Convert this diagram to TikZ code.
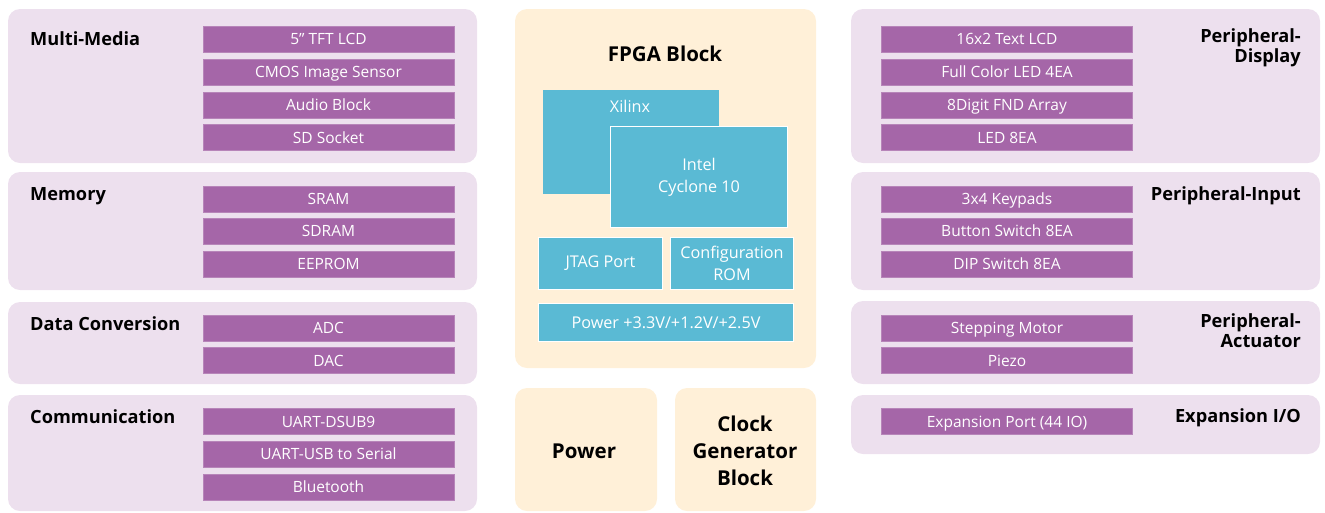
\documentclass[tikz,border=0pt]{standalone}
\usepackage{fontspec}
\setmainfont{Open Sans}
\definecolor{panelc}{HTML}{EDE0EE}
\definecolor{barc}{HTML}{A566A8}
\definecolor{cyanc}{HTML}{5ABAD4}
\definecolor{yelc}{HTML}{FFF0D8}
\tikzset{
  panel/.style={fill=panelc, rounded corners=12pt, draw=none},
  ypanel/.style={fill=yelc, rounded corners=12pt, draw=none},
  bar/.style={fill=barc, draw=barc!80!white, line width=0.6pt, text=white, font=\fontsize{15.5}{18}\selectfont, inner sep=0pt, anchor=center, text height=11.2pt, text depth=0pt},
  lbar/.style={bar, minimum width=251pt, minimum height=26pt},
  cbox/.style={fill=cyanc, draw=white, line width=1pt, text=white, font=\fontsize{16.2}{22}\selectfont, inner sep=0pt, align=center},
  ttl/.style={font=\fontsize{18.2}{20}\selectfont\bfseries, inner sep=0pt, text=black},
  bigttl/.style={font=\fontsize{20.5}{27}\selectfont\bfseries, inner sep=0pt, text=black, align=center},
}
\begin{document}
\begin{tikzpicture}[x=1pt,y=-1pt]
\useasboundingbox (0,0) rectangle (1325,512);
% left panels
\path[panel] (8,9) rectangle (477,163);
\path[panel] (8,172) rectangle (477,290);
\path[panel] (8,302) rectangle (477,384);
\path[panel] (8,395) rectangle (477,511);
% right panels
\path[panel] (851,9) rectangle (1320,163);
\path[panel] (851,172) rectangle (1320,290);
\path[panel] (851,301) rectangle (1320,384);
\path[panel] (851,395) rectangle (1320,454);
% center panels
\path[ypanel] (515,9) rectangle (816,368);
\path[ypanel] (515,388) rectangle (657,511);
\path[ypanel] (675,388) rectangle (816,511);

% left titles
\node[ttl, anchor=base west] (tmm) at (30,45) {Multi-Media};
\node[ttl, anchor=base west] (tmem) at (30,200) {Memory};
\node[ttl, anchor=base west] (tdc) at (30,330) {Data Conversion};
\node[ttl, anchor=base west] (tcom) at (30,423) {Communication};
% right titles
\node[ttl, anchor=north east, align=right] (tpd) at (1301,28) {Peripheral-\\Display};
\node[ttl, anchor=base east] (tpi) at (1301,200) {Peripheral-Input};
\node[ttl, anchor=north east, align=right] (tpa) at (1301,313) {Peripheral-\\Actuator};
\node[ttl, anchor=base east] (tei) at (1301,422) {Expansion I/O};

% left bars
\node[lbar] (b1) at (328.5,39) {5” TFT LCD};
\node[lbar] (b2) at (328.5,72) {CMOS Image Sensor};
\node[lbar] (b3) at (328.5,105) {Audio Block};
\node[lbar] (b4) at (328.5,137.5) {SD Socket};
\node[lbar] (b5) at (328.5,199) {SRAM};
\node[lbar] (b6) at (328.5,231) {SDRAM};
\node[lbar] (b7) at (328.5,264) {EEPROM};
\node[lbar] (b8) at (328.5,328) {ADC};
\node[lbar] (b9) at (328.5,360.5) {DAC};
\node[lbar] (b10) at (328.5,421.5) {UART-DSUB9};
\node[lbar] (b11) at (328.5,454) {UART-USB to Serial};
\node[lbar] (b12) at (328.5,487) {Bluetooth};
% right bars
\node[lbar] (r1) at (1007,39) {16x2 Text LCD};
\node[lbar] (r2) at (1007,72) {Full Color LED 4EA};
\node[lbar] (r3) at (1007,105) {8Digit FND Array};
\node[lbar] (r4) at (1007,137.5) {LED 8EA};
\node[lbar] (r5) at (1007,199) {3x4 Keypads};
\node[lbar] (r6) at (1007,231) {Button Switch 8EA};
\node[lbar] (r7) at (1007,264) {DIP Switch 8EA};
\node[lbar] (r8) at (1007,328) {Stepping Motor};
\node[lbar] (r9) at (1007,360.5) {Piezo};
\node[lbar] (r10) at (1007,421.5) {Expansion Port (44 IO)};

% FPGA block
\node[bigttl] (tfpga) at (665,54) {FPGA Block};
\node[cbox, minimum width=176pt, minimum height=104pt, anchor=north west, draw=none] (xil) at (542,89) {};
\node[text=white, font=\fontsize{16.2}{18}\selectfont, inner sep=0pt, anchor=center, text height=11.6pt, text depth=0pt] (xiltxt) at (630,107) {Xilinx};
\node[cbox, minimum width=177pt, minimum height=101pt, anchor=north west] (intel) at (610,126) {Intel\\Cyclone 10};
\node[cbox, minimum width=124pt, minimum height=52pt, anchor=north west] (jtag) at (538,237) {JTAG Port};
\node[cbox, minimum width=123pt, minimum height=52pt, anchor=north west] (conf) at (670,237) {Configuration\\ROM};
\node[cbox, minimum width=255pt, minimum height=38pt, anchor=north west] (pwr) at (538,303) {Power +3.3V/+1.2V/+2.5V};

% bottom
\node[bigttl] (tpow) at (584,451) {Power};
\node[bigttl] (tclk) at (745,451) {Clock\\Generator\\Block};
\end{tikzpicture}
\end{document}
